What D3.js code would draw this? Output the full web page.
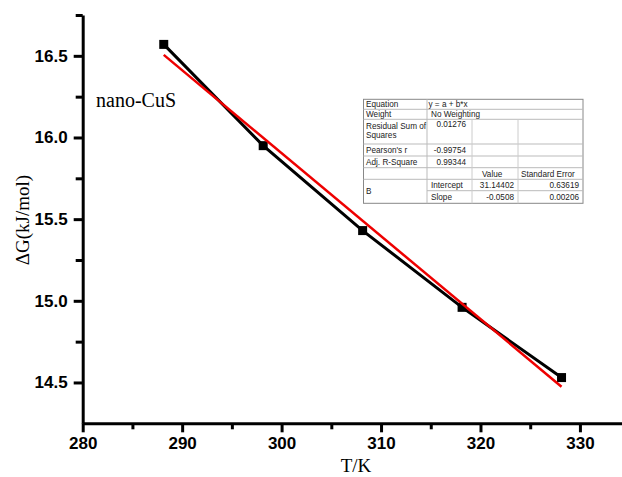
<!DOCTYPE html>
<html>
<head>
<meta charset="utf-8">
<script src="https://d3js.org/d3.v7.min.js"></script>
<style>
  body { margin: 0; background: #fff; }
  svg { display: block; }
</style>
</head>
<body>
<div id="chart"></div>
<script>

// data
var temps = [288.15, 298.15, 308.15, 318.15, 328.15];
var dG = [16.57, 15.95, 15.43, 14.96, 14.53];
// linear fit results (y = a + b*x)
var fitA = 31.14402, fitB = -0.0508;
var xTicks = [280, 290, 300, 310, 320, 330];
var xMinor = [285, 295, 305, 315, 325];
var yTicks = [14.5, 15.0, 15.5, 16.0, 16.5];
var yMinor = [14.75, 15.25, 15.75, 16.25, 16.75];

// fit report table rows
var tableLabels = ["Equation", "Weight", "Residual Sum of\nSquares", "Pearson's r", "Adj. R-Square", "", "B", ""];
var tableCol2 = ["y = a + b*x", "No Weighting", "0.01276", "-0.99754", "0.99344", "", "Intercept", "Slope"];
var tableCol3 = ["", "", "", "", "", "Value", "31.14402", "-0.0508"];
var tableCol4 = ["", "", "", "", "", "Standard Error", "0.63619", "0.00206"];

var W = 622, H = 477;
var svg = d3.select("#chart").append("svg")
  .attr("width", W).attr("height", H);

var x = d3.scaleLinear().domain([280, 334.2]).range([82.7, 621.7]);
var y = d3.scaleLinear().domain([14.25, 16.75]).range([423.3, 15]);

var tickFont = "'Liberation Sans', Arial, sans-serif";
var serif = "'Liberation Serif', 'Times New Roman', serif";

// minor ticks first
svg.append("g")
  .attr("transform", "translate(0," + y(14.25) + ")")
  .call(d3.axisBottom(x).tickValues(xMinor).tickSize(6).tickFormat(""))
  .call(g => g.select(".domain").remove())
  .selectAll("line").attr("stroke-width", 3);
svg.append("g")
  .attr("transform", "translate(" + x(280) + ",0)")
  .call(d3.axisLeft(y).tickValues(yMinor).tickSize(7).tickFormat(""))
  .call(g => g.select(".domain").remove())
  .selectAll("line").attr("stroke-width", 3);

// X axis
var gx = svg.append("g")
  .attr("transform", "translate(0," + y(14.25) + ")")
  .call(d3.axisBottom(x).tickValues(xTicks).tickSize(9).tickSizeOuter(0).tickPadding(5));
gx.select(".domain").attr("stroke-width", 3);
gx.selectAll("line").attr("stroke-width", 3);
gx.selectAll("text")
  .attr("font-family", tickFont).attr("font-weight", "bold").attr("font-size", 17)
  .attr("fill", "#000");

// Y axis
var gy = svg.append("g")
  .attr("transform", "translate(" + x(280) + ",0)")
  .call(d3.axisLeft(y).tickValues(yTicks).tickSize(9).tickSizeOuter(0).tickPadding(6)
    .tickFormat(d3.format(".1f")));
gy.select(".domain").attr("stroke-width", 3);
gy.selectAll("line").attr("stroke-width", 3);
gy.selectAll("text")
  .attr("font-family", tickFont).attr("font-weight", "bold").attr("font-size", 17)
  .attr("fill", "#000");

// axis titles
svg.append("text")
  .attr("x", 356).attr("y", 472)
  .attr("text-anchor", "middle")
  .style("font-family", serif).style("font-size", "19px")
  .text("T/K");
svg.append("text")
  .attr("transform", "translate(29,220) rotate(-90)")
  .attr("text-anchor", "middle")
  .style("font-family", serif).style("font-size", "19px")
  .text("\u0394G(kJ/mol)");

// label
svg.append("text")
  .attr("x", 96).attr("y", 107)
  .style("font-family", serif).style("font-size", "20px")
  .text("nano-CuS");

// data line + markers
var pts = temps.map((t, i) => [t, dG[i]]);
svg.append("path")
  .datum(pts)
  .attr("fill", "none").attr("stroke", "#000").attr("stroke-width", 3)
  .attr("d", d3.line().x(d => x(d[0])).y(d => y(d[1])));
svg.selectAll(".pt")
  .data(pts).enter().append("rect")
  .attr("x", d => x(d[0]) - 4.5).attr("y", d => y(d[1]) - 4.5)
  .attr("width", 9).attr("height", 9)
  .attr("fill", "#000");

// fit line
var fitPts = [temps[0], temps[temps.length - 1]].map(t => [t, fitA + fitB * t]);
svg.append("path")
  .datum(fitPts)
  .attr("fill", "none").attr("stroke", "#ee0000").attr("stroke-width", 2.5)
  .attr("d", d3.line().x(d => x(d[0])).y(d => y(d[1])));

// fit report table
var tl = 363.5, tr = 583;
var cols = [tl, 427, 472, 518, tr];
var rows = [99.3, 109.3, 119.3, 144, 156, 167.7, 179.3, 190.7, 203.3];
var tg = svg.append("g");
tg.append("rect").attr("x", tl).attr("y", rows[0])
  .attr("width", tr - tl).attr("height", rows[8] - rows[0])
  .attr("fill", "#fff").attr("stroke", "#888").attr("stroke-width", 1);
// horizontal lines
rows.slice(1, 8).forEach(function (r, i) {
  var start = (i === 6) ? cols[1] : tl; // B spans two rows
  tg.append("line").attr("x1", start).attr("x2", tr).attr("y1", r).attr("y2", r)
    .attr("stroke", "#bbb").attr("stroke-width", 1);
});
// vertical lines
tg.append("line").attr("x1", cols[1]).attr("x2", cols[1]).attr("y1", rows[0]).attr("y2", rows[8])
  .attr("stroke", "#bbb");
[cols[2], cols[3]].forEach(function (c) {
  tg.append("line").attr("x1", c).attr("x2", c).attr("y1", rows[2]).attr("y2", rows[8])
    .attr("stroke", "#ccc");
});
var tf = tg.append("g").style("font-family", tickFont).style("font-size", "8.2px").attr("fill", "#222");
tableLabels.forEach(function (s, i) {
  if (!s) return;
  var lines = s.split("\n");
  var yy = (i === 6) ? (rows[6] + rows[8]) / 2 + 3 : (lines.length > 1 ? rows[i] + 9.5 : (rows[i] + rows[i + 1]) / 2 + 3);
  lines.forEach(function (ln, k) {
    tf.append("text").attr("x", tl + 2.5).attr("y", yy + k * 9.5).text(ln);
  });
});
tableCol2.forEach(function (s, i) {
  if (!s) return;
  var yy = (i === 2) ? rows[i] + 8 : (rows[i] + rows[i + 1]) / 2 + 3;
  var numeric = i >= 2 && i <= 4;
  tf.append("text")
    .attr("x", numeric ? cols[2] - 6 : cols[1] + (i === 0 ? 1.5 : 4))
    .attr("y", yy)
    .attr("text-anchor", numeric ? "end" : "start")
    .text(s);
});
tableCol3.forEach(function (s, i) {
  if (!s) return;
  var yy = (rows[i] + rows[i + 1]) / 2 + 3;
  var hdr = i === 5;
  tf.append("text").attr("x", hdr ? cols[2] + 10 : cols[3] - 4).attr("y", yy)
    .attr("text-anchor", hdr ? "start" : "end").text(s);
});
tableCol4.forEach(function (s, i) {
  if (!s) return;
  var yy = (rows[i] + rows[i + 1]) / 2 + 3;
  var hdr = i === 5;
  tf.append("text").attr("x", hdr ? cols[3] + 3 : cols[4] - 4).attr("y", yy)
    .attr("text-anchor", hdr ? "start" : "end").text(s);
});

</script>
</body>
</html>
